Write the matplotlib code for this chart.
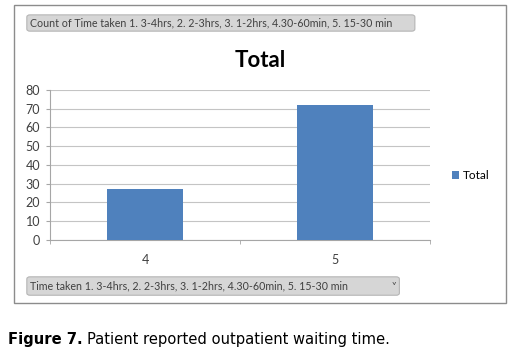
import matplotlib
matplotlib.use("Agg")
import matplotlib.pyplot as plt
from matplotlib.patches import FancyBboxPatch, Rectangle

categories = ["4", "5"]
counts = [27, 72]
yticks = [0, 10, 20, 30, 40, 50, 60, 70, 80]
series_name = "Total"
top_label = "Count of Time taken 1. 3-4hrs, 2. 2-3hrs, 3. 1-2hrs, 4.30-60min, 5. 15-30 min"
bottom_label = "Time taken 1. 3-4hrs, 2. 2-3hrs, 3. 1-2hrs, 4.30-60min, 5. 15-30 min"

blue = "#4f81bd"
font = ["Lato", "DejaVu Sans"]

fig = plt.figure(figsize=(5.16, 3.54), dpi=100)

# outer chart frame
fig.patches.append(Rectangle((0.027, 0.144), 0.954, 0.842, transform=fig.transFigure,
                             facecolor="white", edgecolor="#8c8c8c", lw=1.0, zorder=-5))

# the grey field buttons of the pivot chart
for (x0, y0, w, h), txt in [((0.052, 0.912, 0.752, 0.046), top_label),
                            ((0.052, 0.166, 0.722, 0.052), bottom_label)]:
    fig.patches.append(FancyBboxPatch((x0, y0), w, h, boxstyle="round,pad=0,rounding_size=0.006",
                                      transform=fig.transFigure, facecolor="#d6d6d6",
                                      edgecolor="#b5b5b5", lw=0.8))
    fig.text(x0 + 0.006, y0 + h / 2, txt, fontsize=7.7, color="#404040",
             va="center", ha="left", family=font)
fig.text(0.758, 0.192, "\u02c5", fontsize=7, color="#404040", va="center", family=font)

ax = fig.add_axes([0.097, 0.322, 0.736, 0.424])
ax.patch.set_alpha(0)
x = range(len(categories))
ax.bar(x, counts, width=0.4, color=blue, label=series_name, zorder=3)
ax.set_xlim(-0.5, len(categories) - 0.5)
ax.set_ylim(0, 80)
ax.set_yticks(yticks)
ax.set_xticks(list(x))
ax.set_xticklabels(categories)
ax.set_xticks([-0.5, 0.5, 1.5], minor=True)
ax.grid(axis="y", color="#c4c4c4", lw=0.8, zorder=0)
for s in ["top", "right"]:
    ax.spines[s].set_visible(False)
ax.spines["left"].set_color("#a6a6a6")
ax.spines["bottom"].set_color("#a6a6a6")
ax.tick_params(axis="y", length=3, color="#a6a6a6", labelsize=9, pad=4)
ax.tick_params(axis="x", which="major", length=0, labelsize=9, pad=10)
ax.tick_params(axis="x", which="minor", length=3, color="#a6a6a6")
for lab in ax.get_xticklabels() + ax.get_yticklabels():
    lab.set_family(font)
    lab.set_color("#404040")

fig.text(0.504, 0.83, series_name, fontsize=16, fontweight="bold", ha="center",
         va="center", family=font)

ax.legend(loc="center left", bbox_to_anchor=(1.03, 0.43), frameon=False, handlelength=0.6,
          handleheight=0.6, handletextpad=0.3, prop={"family": font, "size": 8.5})

# caption under the figure
cap = ["DejaVu Sans"]
t1 = fig.text(0.016, 0.04, "Figure 7.", fontsize=11.8, fontweight="bold", family=cap,
              fontstretch="condensed", va="center")
fig.canvas.draw()
bb = t1.get_window_extent().transformed(fig.transFigure.inverted())
fig.text(bb.x1 + 0.008, 0.04, "Patient reported outpatient waiting time.", fontsize=11.8,
         family=cap, fontstretch="condensed", va="center")

fig.savefig("out.png", dpi=100)
